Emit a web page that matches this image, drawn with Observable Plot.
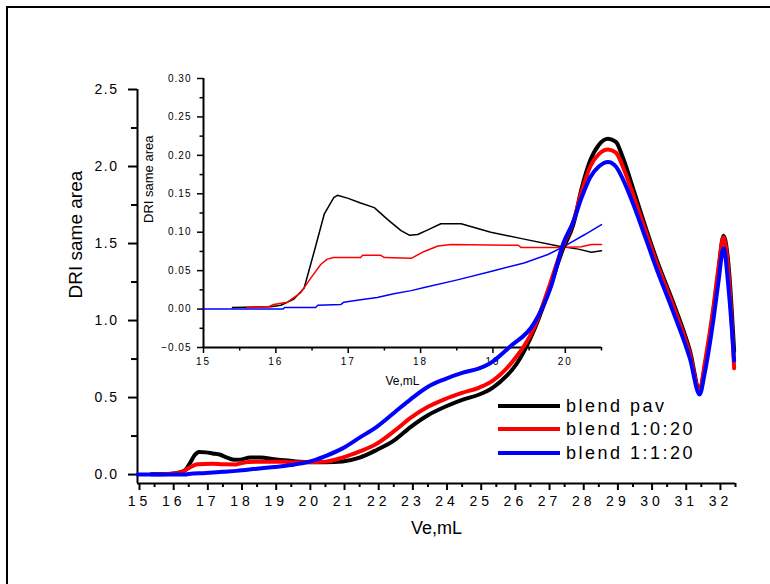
<!DOCTYPE html>
<html><head><meta charset="utf-8">
<script src="https://cdn.jsdelivr.net/npm/d3@7"></script>
<script src="https://cdn.jsdelivr.net/npm/@observablehq/plot@0.6"></script>
<style>
html,body{margin:0;padding:0;background:#fff;overflow:hidden;}
#wrap{position:relative;width:770px;height:584px;overflow:hidden;font-family:"Liberation Sans",Arial,sans-serif;}
#border{position:absolute;left:6px;top:6px;width:900px;height:900px;border-left:2px solid #000;border-top:2px solid #000;}
#wrap svg{position:absolute;left:0;top:0;}
#main [aria-label="x-axis tick label"] text{letter-spacing:4px;}
#main [aria-label="y-axis tick label"] text{letter-spacing:1.5px;}
#main [aria-label="main-xlabel"] text{letter-spacing:3px;}
#inset [aria-label="x-axis tick label"] text{letter-spacing:2px;}
#inset [aria-label="y-axis tick label"] text{letter-spacing:1px;}
#inset [aria-label="inset-xlabel"] text{letter-spacing:1.5px;}
.lg-row{position:absolute;left:498px;height:24px;}
.lg-line{position:absolute;left:0;top:10px;width:62px;height:4px;}
.lg-text{position:absolute;left:68px;top:0;line-height:24px;font-size:18px;letter-spacing:2.5px;white-space:nowrap;color:#000;}
</style>
</head><body>
<div id="wrap"><div id="border"></div></div>
<script>
// ---------- data ----------
const seriesNames = ["blend pav", "blend 1:0:20", "blend 1:1:20"];
const seriesColors = ["#000000", "#ff0000", "#0000ff"];

// main chart: Ve (mL) and DRI same area
const blackX = [15.4,16.0,16.25,16.4,16.55,16.67,16.8,17.0,17.2,17.4,17.6,17.85,18.0,18.3,18.6,19.0,19.4,19.9,20.5,21.0,21.5,22.0,22.5,23.0,23.5,24.0,24.5,25.0,25.4,25.8,26.1,26.6,27.0,27.46,27.75,28.0,28.25,28.5,28.77,29.0,29.2,29.5,29.7,30.2,30.67,31.17,31.45,31.6,31.85,32.0,32.15,32.3,32.46];
const blackY = [0.002,0.005,0.015,0.03,0.08,0.125,0.147,0.144,0.137,0.13,0.112,0.096,0.097,0.111,0.111,0.100,0.091,0.082,0.080,0.085,0.11,0.16,0.22,0.31,0.385,0.44,0.485,0.52,0.565,0.64,0.72,0.935,1.17,1.47,1.62,1.86,2.04,2.14,2.18,2.16,2.06,1.86,1.72,1.39,1.12,0.80,0.55,0.70,1.06,1.32,1.55,1.35,0.80];

const redX = [15.6,16.0,16.2,16.35,16.5,16.65,16.75,17.2,17.5,17.87,18.05,18.25,18.45,19.35,19.4,20.0,20.5,21.0,21.5,22.0,22.5,23.0,23.5,24.0,24.5,25.0,25.4,26.0,26.6,27.0,27.46,27.75,28.0,28.25,28.5,28.77,29.0,29.2,29.5,29.7,30.2,30.67,31.17,31.45,31.6,31.85,32.0,32.15,32.3,32.46];
const redY = [0.002,0.006,0.01,0.022,0.042,0.06,0.067,0.07,0.067,0.066,0.075,0.082,0.084,0.083,0.080,0.080,0.084,0.11,0.15,0.20,0.28,0.37,0.44,0.49,0.53,0.565,0.61,0.74,0.95,1.19,1.49,1.64,1.84,2.0,2.08,2.11,2.09,2.0,1.82,1.69,1.37,1.10,0.78,0.54,0.72,1.08,1.34,1.54,1.30,0.69];

const blueX = [15.0,16.4,16.5,17.0,17.5,17.9,18.5,19.0,19.5,20.0,20.5,21.0,21.5,22.0,22.5,23.0,23.5,24.0,24.5,25.0,25.3,25.9,26.6,27.1,27.46,27.75,28.0,28.25,28.5,28.77,29.0,29.2,29.5,29.7,30.2,30.67,31.17,31.45,31.6,31.85,32.0,32.15,32.3,32.46];
const blueY = [0,0,0.004,0.01,0.018,0.024,0.038,0.049,0.062,0.082,0.12,0.17,0.24,0.31,0.40,0.49,0.57,0.62,0.66,0.69,0.72,0.83,0.98,1.22,1.50,1.64,1.80,1.93,2.0,2.03,2.0,1.92,1.76,1.64,1.33,1.06,0.75,0.52,0.66,1.0,1.25,1.47,1.20,0.74];

// inset: zoom on 15–20.5 mL
const insetBlackX = [15.4,15.93,16.07,16.25,16.39,16.53,16.67,16.8,16.85,17.0,17.17,17.36,17.55,17.73,17.85,17.96,18.1,18.28,18.56,18.97,19.43,19.9,20.18,20.36,20.5];
const insetBlackY = [0.002,0.003,0.005,0.013,0.027,0.075,0.124,0.145,0.148,0.144,0.138,0.132,0.116,0.102,0.096,0.097,0.103,0.111,0.111,0.100,0.091,0.082,0.078,0.074,0.076];
const insetRedX = [15.6,15.9,15.97,16.16,16.34,16.48,16.62,16.71,16.8,17.17,17.2,17.45,17.5,17.87,18.05,18.24,18.42,19.35,19.39,19.95,20.22,20.36,20.5];
const insetRedY = [0.002,0.003,0.006,0.009,0.021,0.04,0.058,0.065,0.067,0.067,0.07,0.07,0.067,0.066,0.075,0.082,0.084,0.083,0.080,0.080,0.081,0.084,0.084];
const insetBlueX = [15.0,16.1,16.12,16.55,16.58,16.9,16.94,17.17,17.4,17.63,17.87,18.05,18.51,18.97,19.43,19.76,19.99,20.27,20.5];
const insetBlueY = [0,0,0.002,0.002,0.005,0.006,0.009,0.012,0.015,0.02,0.024,0.028,0.038,0.049,0.060,0.071,0.082,0.097,0.11];

// ticks and labels
const mainXTicks = [15,16,17,18,19,20,21,22,23,24,25,26,27,28,29,30,31,32];
const mainXMinor = [15.5,16.5,17.5,18.5,19.5,20.5,21.5,22.5,23.5,24.5,25.5,26.5,27.5,28.5,29.5,30.5,31.5,32.5];
const mainYTicks = [0,0.5,1.0,1.5,2.0,2.5];
const mainYMinor = [0.25,0.75,1.25,1.75,2.25];
const insetXTicks = [15,16,17,18,19,20];
const insetXMinor = [15.5,16.5,17.5,18.5,19.5,20.5];
const insetYTicks = [-0.05,0,0.05,0.10,0.15,0.20,0.25,0.30];
const insetYMinor = [-0.025,0.025,0.075,0.125,0.175,0.225,0.275];
const xTitle = "Ve,mL";
const yTitle = "DRI same area";

// ---------- build ----------
function rows(xs, ys, name) { return xs.map((x, i) => ({x, y: ys[i], name})); }
const mainData = [
  rows(blackX, blackY, seriesNames[0]),
  rows(redX, redY, seriesNames[1]),
  rows(blueX, blueY, seriesNames[2])
];
const insetData = [
  rows(insetBlackX, insetBlackY, seriesNames[0]),
  rows(insetRedX, insetRedY, seriesNames[1]),
  rows(insetBlueX, insetBlueY, seriesNames[2])
];
const font = "Liberation Sans, Arial, sans-serif";

const inset = Plot.plot({
  width: 770, height: 584,
  marginLeft: 203, marginRight: 169, marginTop: 78, marginBottom: 237,
  style: {background: "transparent", fontFamily: font, color: "#000", overflow: "visible"},
  x: {domain: [15, 20.5]},
  y: {domain: [-0.05, 0.30]},
  marks: [
    Plot.axisX({ticks: insetXTicks, tickSize: 6, tickPadding: 4, tickFormat: d => String(d), fontSize: 10, strokeWidth: 1.5, label: null}),
    Plot.axisX({ticks: insetXMinor, tickSize: 3.5, tickFormat: () => "", strokeWidth: 1.5, label: null}),
    Plot.axisY({ticks: insetYTicks, tickSize: 6, tickPadding: 6, tickFormat: d3.format(".2f"), fontSize: 10, strokeWidth: 1.5, label: null}),
    Plot.axisY({ticks: insetYMinor, tickSize: 3.5, tickFormat: () => "", strokeWidth: 1.5, label: null}),
    Plot.ruleX([15], {strokeWidth: 2}),
    Plot.ruleY([-0.05], {strokeWidth: 2}),
    Plot.text([xTitle], {text: d => d, frameAnchor: "bottom", dy: 37, fontSize: 12, ariaLabel: "inset-xlabel"}),
    Plot.text([yTitle], {text: d => d, frameAnchor: "left", dx: -55, dy: 10, rotate: -90, fontSize: 13}),
    ...insetData.map((d, i) => Plot.line(d, {x: "x", y: "y", stroke: seriesColors[i], strokeWidth: 1.5}))
  ]
});
inset.id = "inset";

const main = Plot.plot({
  width: 770, height: 584,
  marginLeft: 137, marginRight: 35, marginTop: 89, marginBottom: 101,
  style: {background: "transparent", fontFamily: font, color: "#000", overflow: "visible"},
  x: {domain: [15, 32.5]},
  y: {domain: [-0.058, 2.5]},
  marks: [
    Plot.axisX({ticks: mainXTicks, tickSize: 7, tickPadding: 6, tickFormat: d => String(d), fontSize: 14, strokeWidth: 2, label: null, dx: 2}),
    Plot.axisX({ticks: mainXMinor, tickSize: 4, tickFormat: () => "", strokeWidth: 2, label: null}),
    Plot.axisY({ticks: mainYTicks, tickSize: 9, tickPadding: 10, tickFormat: d3.format(".1f"), fontSize: 14, strokeWidth: 2, label: null}),
    Plot.axisY({ticks: mainYMinor, tickSize: 6, tickFormat: () => "", strokeWidth: 2, label: null}),
    Plot.ruleX([15], {strokeWidth: 2}),
    Plot.ruleY([-0.058], {strokeWidth: 2}),
    Plot.text([xTitle], {text: d => d, frameAnchor: "bottom", dy: 50, fontSize: 18, ariaLabel: "main-xlabel"}),
    Plot.text([yTitle], {text: d => d, frameAnchor: "left", dx: -62, dy: 12, rotate: -90, fontSize: 19}),
    ...mainData.map((d, i) => Plot.line(d, {x: "x", y: "y", stroke: seriesColors[i], strokeWidth: 4, curve: "monotone-x"}))
  ]
});
main.id = "main";

const wrap = document.getElementById("wrap");
wrap.appendChild(inset);
wrap.appendChild(main);

// legend
const legendTops = [394, 417, 441];
seriesNames.forEach((name, i) => {
  const row = document.createElement("div");
  row.className = "lg-row";
  row.style.top = legendTops[i] + "px";
  const line = document.createElement("div");
  line.className = "lg-line";
  line.style.background = seriesColors[i];
  const txt = document.createElement("div");
  txt.className = "lg-text";
  txt.textContent = name;
  row.appendChild(line); row.appendChild(txt);
  wrap.appendChild(row);
});
</script>
</body></html>
